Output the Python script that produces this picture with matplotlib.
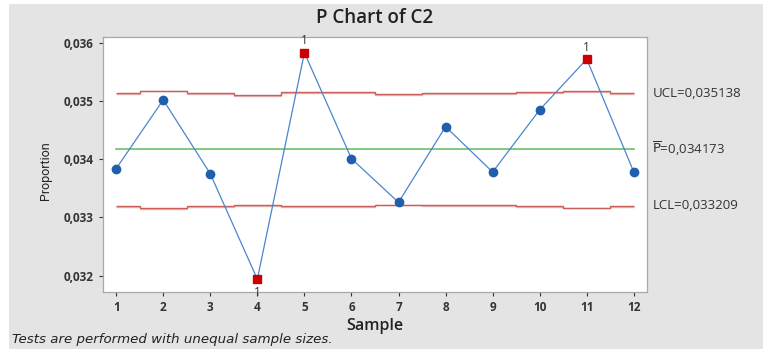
import numpy as np
import matplotlib as mpl
mpl.use("Agg")
import matplotlib.pyplot as plt
from matplotlib.patches import Rectangle
from matplotlib.ticker import FuncFormatter

mpl.rcParams.update({"font.family": ["Open Sans", "DejaVu Sans"]})

# ---- data ----
samples = np.arange(1, 13)
prop = [0.03384, 0.03502, 0.03375, 0.03194, 0.03583, 0.03401,
        0.03326, 0.03456, 0.03378, 0.03485, 0.03572, 0.03378]
ucl = [0.03513, 0.03518, 0.03513, 0.03510, 0.03515, 0.03515,
       0.03512, 0.03513, 0.03513, 0.03515, 0.03517, 0.03513]
lcl = [0.03320, 0.03316, 0.03320, 0.03321, 0.03319, 0.03319,
       0.03322, 0.03321, 0.03321, 0.03319, 0.03317, 0.03320]
pbar = 0.034173
ucl_txt, lcl_txt = "0,035138", "0,033209"
flagged = [4, 5, 11]

BLUE = "#1f5fae"
LINE = "#4a86cc"
RED = "#cc0000"
LIM = "#c9605c"
GREEN = "#6cc06c"
INK = "#333333"

fig = plt.figure(figsize=(7.63, 3.49), dpi=100, facecolor="white")
fig.patches.append(Rectangle((9 / 763, 0), 1, 1 - 4 / 349, transform=fig.transFigure,
                             facecolor="#e4e4e4", edgecolor="none", zorder=-10))
ax = fig.add_axes([103 / 763, 57 / 349, 544 / 763, 255 / 349])
ax.set_facecolor("white")

# stepped control limits, from sample 1 to sample 12
edges = np.concatenate([[samples[0]], samples[:-1] + 0.5, [samples[-1]]])
for lim in (ucl, lcl):
    ax.stairs(np.array(lim) - 0.000012, edges, color="#eab9b7", linewidth=1.0,
              baseline=None, zorder=2)
    ax.stairs(lim, edges, color=LIM, linewidth=1.0, baseline=None, zorder=2)
ax.plot([samples[0], samples[-1]], [pbar, pbar], color=GREEN, linewidth=1.2, zorder=2)

ax.plot(samples, prop, color=LINE, linewidth=0.9, zorder=3)
ok = [i for i in range(len(samples)) if samples[i] not in flagged]
ax.plot(samples[ok], np.array(prop)[ok], linestyle="none", marker="o",
        markersize=6, color=BLUE, zorder=4)
for s in flagged:
    v = prop[s - 1]
    ax.plot(s, v, linestyle="none", marker="s", markersize=5.5, color=RED, zorder=5)
    below = v < pbar
    ax.annotate("1", (s, v), xytext=(0, -5 if below else 4), textcoords="offset points",
                ha="center", va="top" if below else "bottom", fontsize=8.5, color=INK)

ax.set_xlim(0.72, 12.28)
ax.set_ylim(0.03172, 0.0361)
ax.set_xticks(samples)
ax.set_yticks([0.032, 0.033, 0.034, 0.035, 0.036])
ax.yaxis.set_major_formatter(FuncFormatter(lambda v, p: f"{v:.3f}".replace(".", ",")))
ax.tick_params(labelsize=8.5, colors=INK, length=3, width=0.8)
for t in ax.get_xticklabels() + ax.get_yticklabels():
    t.set_fontweight("bold")
for sp in ax.spines.values():
    sp.set_color("#a8a8a8")
    sp.set_linewidth(0.9)

ax.set_xlabel("Sample", fontsize=11.5, fontweight="semibold", color="#222222", labelpad=3)
ax.set_ylabel("Proportion", fontsize=9, color="#222222", family="Roboto")
ax.yaxis.set_label_coords(-0.094, 0.475)
ax.set_title("P Chart of C2", fontsize=13.5, fontweight="semibold", color="#222222", pad=10)

tr = ax.get_yaxis_transform()
ax.text(1.01, ucl[0] + 0.000008, f"UCL={ucl_txt}", transform=tr, va="center", ha="left",
        fontsize=9.5, color=INK)
ax.text(1.01, pbar, r"$\overline{\mathrm{P}}$" + "=0,034173", transform=tr, va="center",
        ha="left", fontsize=9.5, color=INK)
ax.text(1.01, lcl[0], f"LCL={lcl_txt}", transform=tr, va="center", ha="left",
        fontsize=9.5, color=INK)

fig.text(12 / 763, 1 - 340 / 349, "Tests are performed with unequal sample sizes.",
         fontsize=9.6, style="italic", color="#222222", va="center", family="DejaVu Sans")

fig.savefig("out.png", dpi=100, facecolor=fig.get_facecolor())
